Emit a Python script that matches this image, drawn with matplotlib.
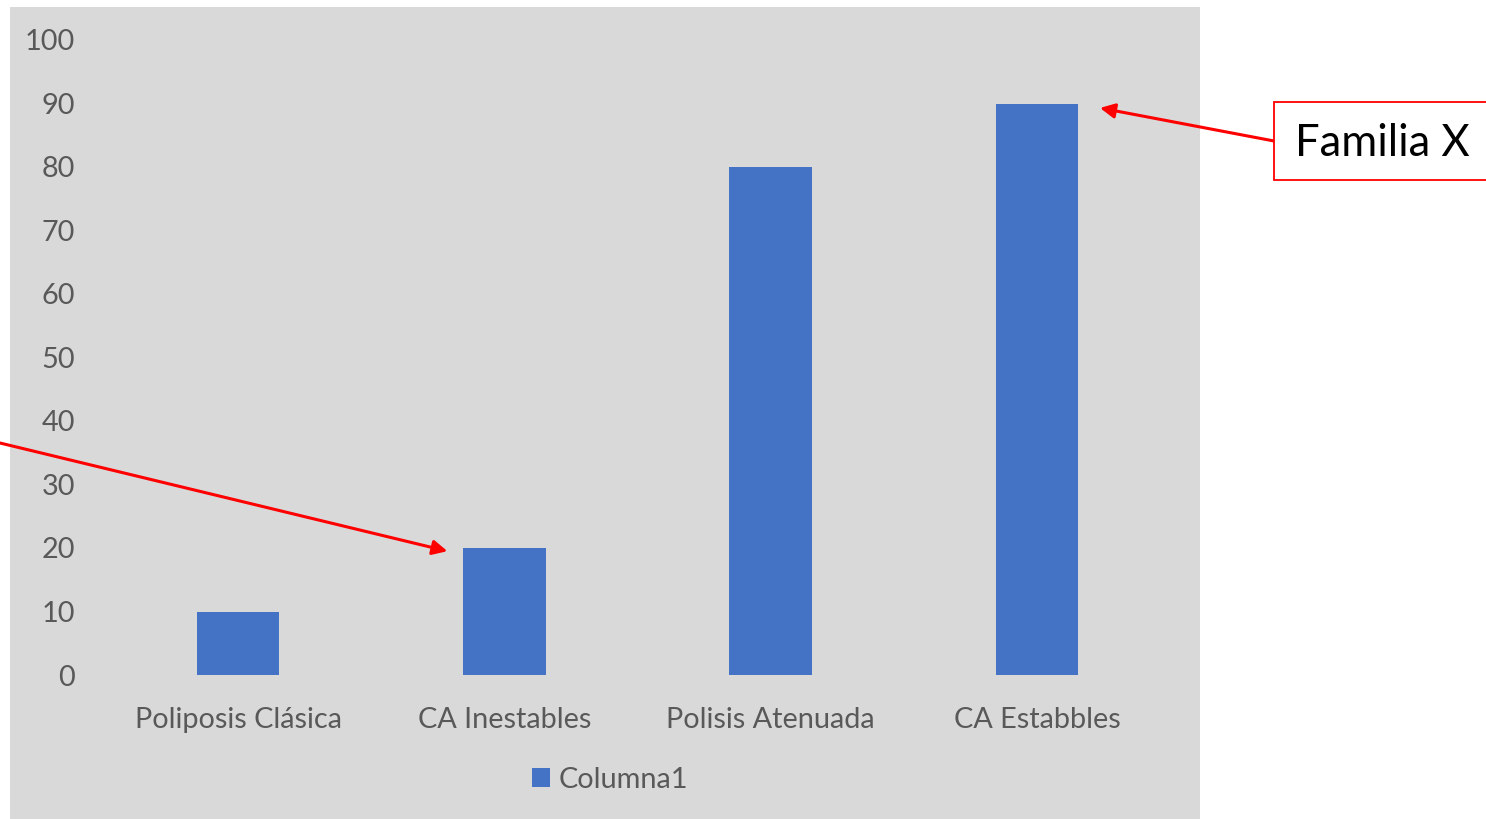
import matplotlib
matplotlib.use("Agg")
import matplotlib.pyplot as plt
from matplotlib.patches import Rectangle

categories = ["Poliposis Clásica", "CA Inestables", "Polisis Atenuada", "CA Estabbles"]
values = [10, 20, 80, 90]
series_name = "Columna1"
yticks = [0, 10, 20, 30, 40, 50, 60, 70, 80, 90, 100]
callout_text = "Familia X"

W, H = 1486, 819
plt.rcParams["font.family"] = ["Lato", "DejaVu Sans"]

fig = plt.figure(figsize=(W / 100, H / 100), dpi=100)
fig.patch.set_facecolor("white")

# gray chart area behind the plot
fig.patches.append(Rectangle((10 / W, 0), 1190 / W, 1 - 7 / H,
                             transform=fig.transFigure, facecolor="#D9D9D9",
                             edgecolor="none", zorder=-10))

ax = fig.add_axes([105 / W, 1 - 675 / H, 1065 / W, 635 / H])
ax.set_facecolor("none")
ax.bar(range(len(categories)), values, width=0.31, color="#4472C4",
       label=series_name, zorder=2)
ax.set_xlim(-0.5, len(categories) - 0.5)
ax.set_ylim(0, 100)
ax.set_yticks(yticks)
ax.set_xticks(range(len(categories)))
ax.set_xticklabels(categories)
for s in ax.spines.values():
    s.set_visible(False)
ax.tick_params(axis="both", length=0, labelsize=20.8, colors="#595959")
ax.tick_params(axis="y", pad=21.6)
ax.tick_params(axis="x", pad=23)

leg = fig.legend(loc="center", bbox_to_anchor=(610 / W, 1 - 780 / H),
                 frameon=False, fontsize=20.8, handlelength=0.62, handleheight=0.62,
                 handletextpad=0.3, labelcolor="#595959")

# red callout arrows
arrow = dict(arrowstyle="-|>", color="#FF0000", lw=2.2, mutation_scale=22,
             shrinkA=0, shrinkB=0)
ax.annotate("", xy=(0.786, 19.5), xycoords="data",
            xytext=(0, 1 - 443 / H), textcoords="figure fraction",
            arrowprops=arrow, annotation_clip=False)
ax.annotate("", xy=(3.237, 89.3), xycoords="data",
            xytext=(1274 / W, 1 - 141 / H), textcoords="figure fraction",
            arrowprops=arrow, annotation_clip=False)

fig.patches.append(Rectangle((1274 / W, 1 - 180 / H), 230 / W, 78 / H,
                             transform=fig.transFigure, facecolor="white",
                             edgecolor="#FF0000", lw=1.3, zorder=3))
fig.text(1295 / W, 1 - 143 / H, callout_text, fontsize=31.4, color="black",
         ha="left", va="center", zorder=4)

fig.savefig("out.png", dpi=100)
